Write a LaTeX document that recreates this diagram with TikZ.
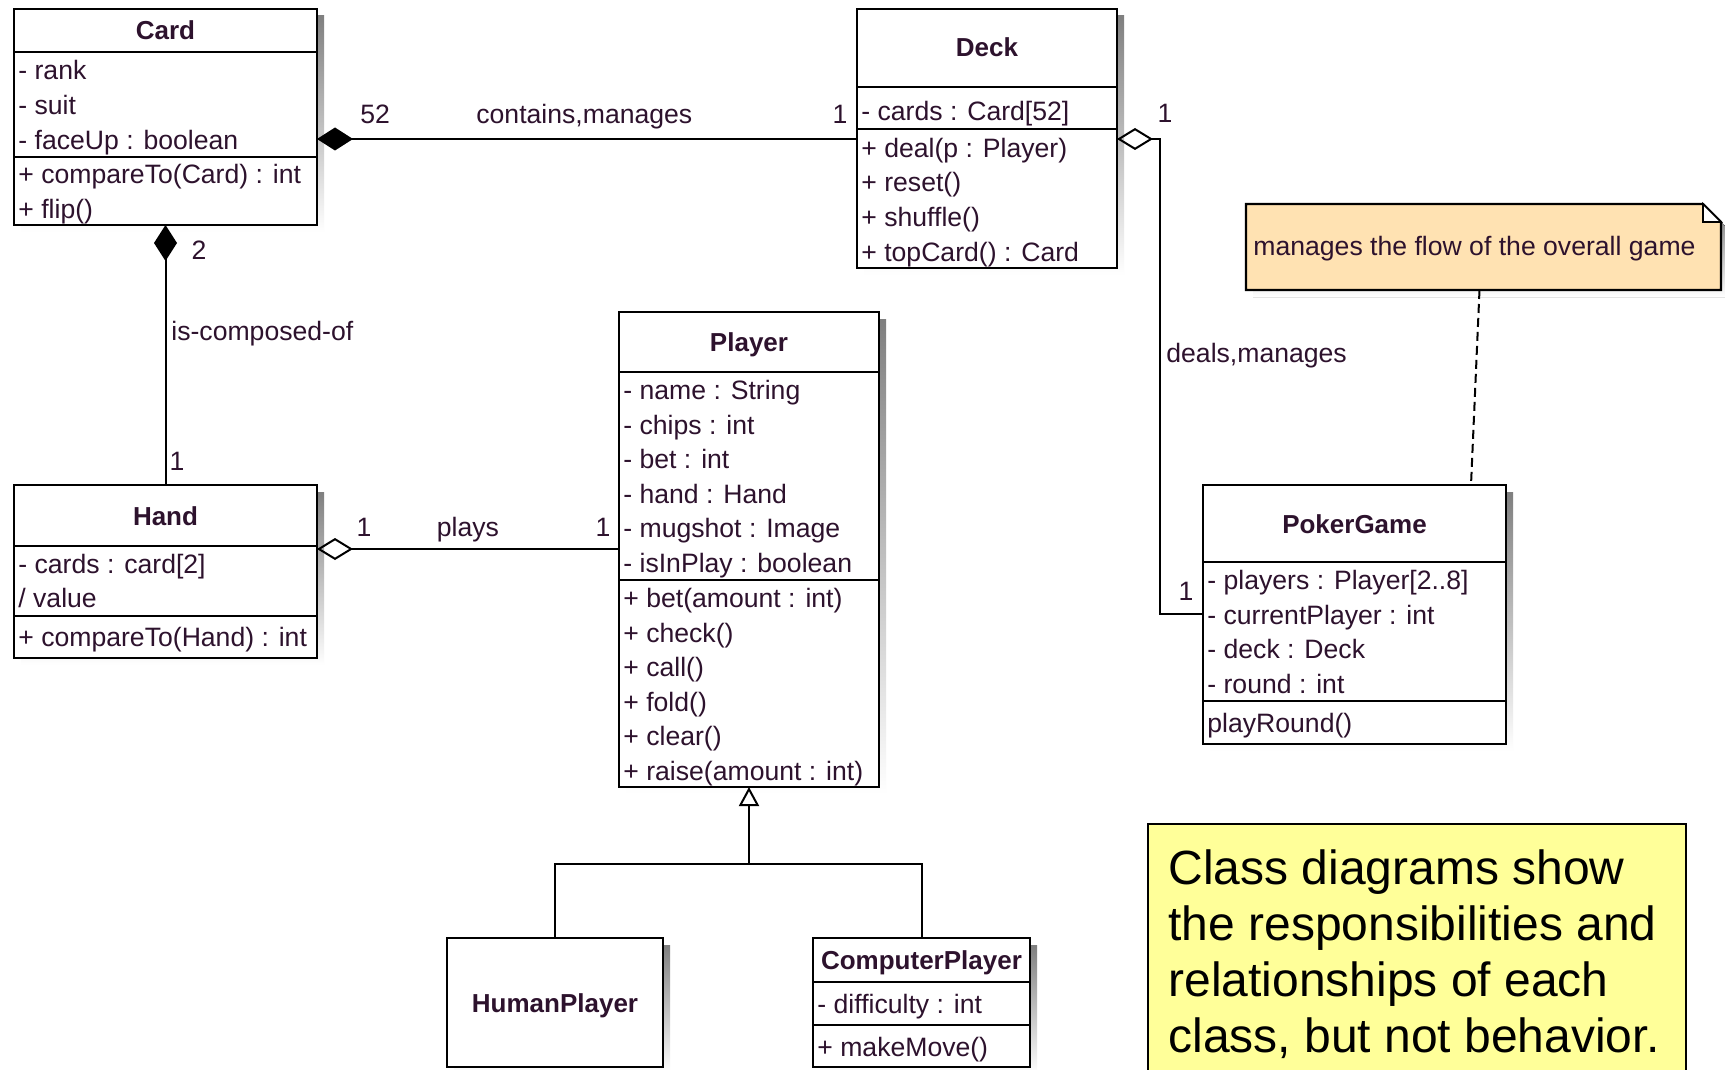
\documentclass[tikz,border=0pt]{standalone}
\usepackage{fontspec}
\setmainfont{Liberation Sans}
\usetikzlibrary{arrows.meta}

\definecolor{ink}{RGB}{45,18,45}
\definecolor{shade}{RGB}{200,200,200}
\definecolor{notefill}{RGB}{255,226,178}
\definecolor{memofill}{RGB}{255,255,153}

% class rectangle with drop shadow: name, left, top, right, bottom (pixel units)
\newcommand{\umlbox}[5]{%
  \fill[shade] ({#2+7},{#3+7}) rectangle ({#4+7},{#5+7});
  \node[classbox, minimum width={(#4-(#2))*0.5pt}, minimum height={(#5-(#3))*0.5pt}]
    (#1) at ({(#2+#4)/2},{(#3+#5)/2}) {};
}
% compartment divider across a class box at height y
\newcommand{\umlsep}[2]{\draw[sepline] (#1.west |- 0,#2) -- (#1.east |- 0,#2);}
% list of members: name prefix, left x, first baseline, pitch, entries
\newcommand{\umlrows}[5]{%
  \foreach \txt [count=\k] in {#5}{\node[rowtext] (#1\k) at ({#2},{#3+(\k-1)*#4}) {\txt};}
}

\begin{document}
\begin{tikzpicture}[x=0.5pt,y=-0.5pt,
  classbox/.style={draw=black, line width=1.2pt, fill=white, rectangle, inner sep=0pt, outer sep=0pt},
  sepline/.style={line width=1pt},
  umltext/.style={inner sep=0pt, text=ink, font=\fontsize{13.3}{15}\selectfont},
  rowtext/.style={umltext, anchor=base west},
  titletext/.style={umltext, anchor=base, font=\fontsize{13}{15}\selectfont\bfseries},
  lbl/.style={umltext, anchor=base},
  lblw/.style={umltext, anchor=base west},
  link/.style={line width=1pt, draw=black},
  comp/.style={link, {Diamond[length=18pt,width=11.5pt]}-},
  aggr/.style={link, {Diamond[open,length=18pt,width=11pt]}-},
  inherit/.style={link, {Triangle[open,length=9.5pt,width=10pt]}-},
  anchorline/.style={link, dash pattern=on 4.5pt off 2.5pt},
  memotext/.style={anchor=base west, inner sep=0pt, text=black, font=\fontsize{24}{28}\selectfont}
]
\useasboundingbox (0,0) rectangle (1725,1070);
\fill[white] (0,0) rectangle (1725,1070);

% ---------- Card ----------
\umlbox{card}{14}{9}{317}{225}
\umlsep{card}{52}
\umlsep{card}{157}
\node[titletext] (card-t) at (card.north |- 0,40) {Card};
\umlrows{card-a}{18}{80}{34.5}{{- rank},{- suit},{- faceUp : boolean}}
\umlrows{card-m}{18}{184}{34.5}{{+ compareTo(Card) : int},{+ flip()}}

% ---------- Deck ----------
\umlbox{deck}{857}{9}{1117}{268}
\umlsep{deck}{87}
\umlsep{deck}{129}
\node[titletext] (deck-t) at (deck.north |- 0,57) {Deck};
\umlrows{deck-a}{861}{120}{34.7}{{- cards : Card[52]}}
\umlrows{deck-m}{861}{157}{34.7}{{+ deal(p : Player)},{+ reset()},{+ shuffle()},{+ topCard() : Card}}

% ---------- Hand ----------
\umlbox{hand}{14}{485}{317}{658}
\umlsep{hand}{546}
\umlsep{hand}{616}
\node[titletext] (hand-t) at (hand.north |- 0,525) {Hand};
\umlrows{hand-a}{18}{573}{34}{{- cards : card[2]},{/ value}}
\umlrows{hand-m}{18}{646}{34}{{+ compareTo(Hand) : int}}

% ---------- Player ----------
\umlbox{player}{619}{312}{879}{787}
\umlsep{player}{372}
\umlsep{player}{580}
\node[titletext] (player-t) at (player.north |- 0,351) {Player};
\umlrows{player-a}{623}{399.5}{34.6}{{- name : String},{- chips : int},{- bet : int},{- hand : Hand},{- mugshot : Image},{- isInPlay : boolean}}
\umlrows{player-m}{623}{607.5}{34.6}{{+ bet(amount : int)},{+ check()},{+ call()},{+ fold()},{+ clear()},{+ raise(amount : int)}}

% ---------- PokerGame ----------
\umlbox{game}{1203}{485}{1506}{744}
\umlsep{game}{562}
\umlsep{game}{701}
\node[titletext] (game-t) at (game.north |- 0,533) {PokerGame};
\umlrows{game-a}{1207}{589.5}{34.6}{{- players : Player[2..8]},{- currentPlayer : int},{- deck : Deck},{- round : int}}
\umlrows{game-m}{1207}{732}{34.6}{{playRound()}}

% ---------- HumanPlayer / ComputerPlayer ----------
\umlbox{human}{447}{938}{663}{1067}
\node[titletext] (human-t) at (human.center |- 0,1012) {HumanPlayer};
\umlbox{computer}{813}{938}{1030}{1067}
\umlsep{computer}{982}
\umlsep{computer}{1025}
\node[titletext] (computer-t) at (computer.north |- 0,969) {ComputerPlayer};
\umlrows{computer-a}{817}{1013}{34.6}{{- difficulty : int}}
\umlrows{computer-m}{817}{1056}{34.6}{{+ makeMove()}}

% ---------- comment note on PokerGame ----------
\node[minimum width={(1721-1246)*0.5pt}, minimum height={(290-204)*0.5pt}, inner sep=0pt, outer sep=0pt]
  (note) at ({(1246+1721)/2},{(204+290)/2}) {};
\fill[shade] ([shift={(3.5pt,-3.5pt)}]note.north west) -- ([shift={(-5.5pt,-3.5pt)}]note.north east)
  -- ([shift={(3.5pt,-12.5pt)}]note.north east) -- ([shift={(3.5pt,-3.5pt)}]note.south east)
  -- ([shift={(3.5pt,-3.5pt)}]note.south west) -- cycle;
\draw[fill=notefill, line width=1.1pt] (note.north west) -- ([xshift=-9pt]note.north east)
  -- ([yshift=-9pt]note.north east) -- (note.south east) -- (note.south west) -- cycle;
\draw[fill=white, line width=0.8pt] ([xshift=-9pt]note.north east) -- ([xshift=-9pt,yshift=-9pt]note.north east)
  -- ([yshift=-9pt]note.north east) -- cycle;
\node[lblw] (note-t) at (1253,256) {manages the flow of the overall game};

% ---------- associations ----------
\draw[comp] (card.east |- 0,139) -- (deck.west |- 0,139);
\node[lblw] (l52) at (360,124) {52};
\node[lblw] (lcont) at (476,124) {contains,manages};
\node[lbl] (ldeck1) at (840,124) {1};

\draw[comp] (card.south) -- (hand.north);
\node[lbl] (lcard2) at (199,259) {2};
\node[lblw] (lcomp) at (171,340) {is-composed-of};
\node[lbl] (lhand1) at (177,470) {1};

\draw[aggr] (hand.east |- 0,549) -- (player.west |- 0,549);
\node[lbl] (lplay1) at (364,536) {1};
\node[lbl] (lplays) at (468,536) {plays};
\node[lbl] (lplay2) at (603,536) {1};

\coordinate (dbend) at (1160,139);
\draw[aggr] (deck.east |- 0,139) -- (dbend) |- (game.west |- 0,614);
\node[lbl] (ldeal1) at (1165,123) {1};
\node[lblw] (ldeals) at (1166,362) {deals,manages};
\node[lbl] (lgame1) at (1186,600) {1};

\draw[anchorline] ([xshift=-2pt]note.south) -- ([xshift=-17.5pt]game.north east);

% ---------- generalization ----------
\coordinate (hub) at (player.south |- 0,864);
\draw[inherit] (player.south) -- (hub);
\draw[link] (human.north) |- (hub) -| (computer.north);

% ---------- summary box ----------
\node[draw=black, fill=memofill, line width=1pt, inner sep=0pt, outer sep=0pt,
  minimum width={(1686-1148)*0.5pt}, minimum height={(1076-824)*0.5pt}]
  (memo) at ({(1148+1686)/2},{(824+1076)/2}) {};
\foreach \ln [count=\k] in {{Class diagrams show},{the responsibilities and},{relationships of each},{class, but not behavior.}}
  \node[memotext] (memo-\k) at (1168,{884+(\k-1)*56}) {\ln};
\end{tikzpicture}
\end{document}
